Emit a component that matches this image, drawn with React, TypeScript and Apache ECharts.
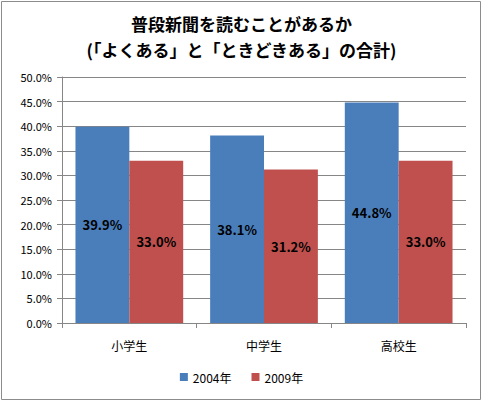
import { useEffect, useRef } from "react";
import * as echarts from "echarts";

const categories = ["小学生", "中学生", "高校生"];
const series2004 = [39.9, 38.1, 44.8];
const series2009 = [33.0, 31.2, 33.0];
const seriesNames = ["2004年", "2009年"];

const FONT = '"Noto Sans CJK JP", sans-serif';

export default function App() {
  const chartRef = useRef<HTMLDivElement | null>(null);

  useEffect(() => {
    document.body.style.margin = "0";
    if (!chartRef.current) return;
    const chart = echarts.init(chartRef.current, undefined, { renderer: "svg" });
    const labelStyle = {
      show: true,
      position: "inside" as const,
      formatter: (p: any) => p.value.toFixed(1) + "%",
      fontFamily: FONT,
      fontSize: 13,
      fontWeight: "bold" as const,
      color: "#000"
    };
    chart.setOption({
      animation: false,
      title: {
        text: "普段新聞を読むことがあるか\n(「よくある」と「ときどきある」の合計)",
        left: "center",
        top: 5,
        textStyle: {
          fontFamily: FONT,
          fontSize: 17,
          fontWeight: "bold",
          color: "#000",
          lineHeight: 26
        }
      },
      graphic: [
        {
          type: "rect",
          shape: { x: 1.5, y: 1.5, width: 479, height: 398 },
          style: { fill: "none", stroke: "#8c8c8c", lineWidth: 1 },
          silent: true
        }
      ],
      legend: {
        bottom: 14,
        left: "center",
        itemWidth: 8,
        itemHeight: 8,
        itemGap: 20,
        icon: "rect",
        textStyle: { fontFamily: FONT, fontSize: 12, color: "#000" },
        data: seriesNames
      },
      grid: { left: 62, right: 17, top: 77, bottom: 79 },
      xAxis: {
        type: "category",
        data: categories,
        axisLine: { lineStyle: { color: "#868686" } },
        axisTick: { show: true, length: 5, lineStyle: { color: "#868686" } },
        axisLabel: { fontFamily: FONT, fontSize: 12, color: "#000", margin: 16 }
      },
      yAxis: {
        type: "value",
        min: 0,
        max: 50,
        interval: 5,
        axisLine: { show: true, lineStyle: { color: "#868686" } },
        axisTick: { show: true, length: 5, lineStyle: { color: "#868686" } },
        axisLabel: {
          fontFamily: FONT,
          fontSize: 11,
          color: "#000",
          margin: 10,
          formatter: (v: number) => v.toFixed(1) + "%"
        },
        splitLine: { lineStyle: { color: "#868686" } }
      },
      series: [
        {
          name: seriesNames[0],
          type: "bar",
          data: series2004,
          barGap: "0%",
          barCategoryGap: "20%",
          itemStyle: { color: "#4a7ebb" },
          label: labelStyle
        },
        {
          name: seriesNames[1],
          type: "bar",
          data: series2009,
          itemStyle: { color: "#c0504d" },
          label: labelStyle
        }
      ]
    });
    return () => chart.dispose();
  }, []);

  return <div ref={chartRef} style={{ width: 483, height: 402 }} />;
}
